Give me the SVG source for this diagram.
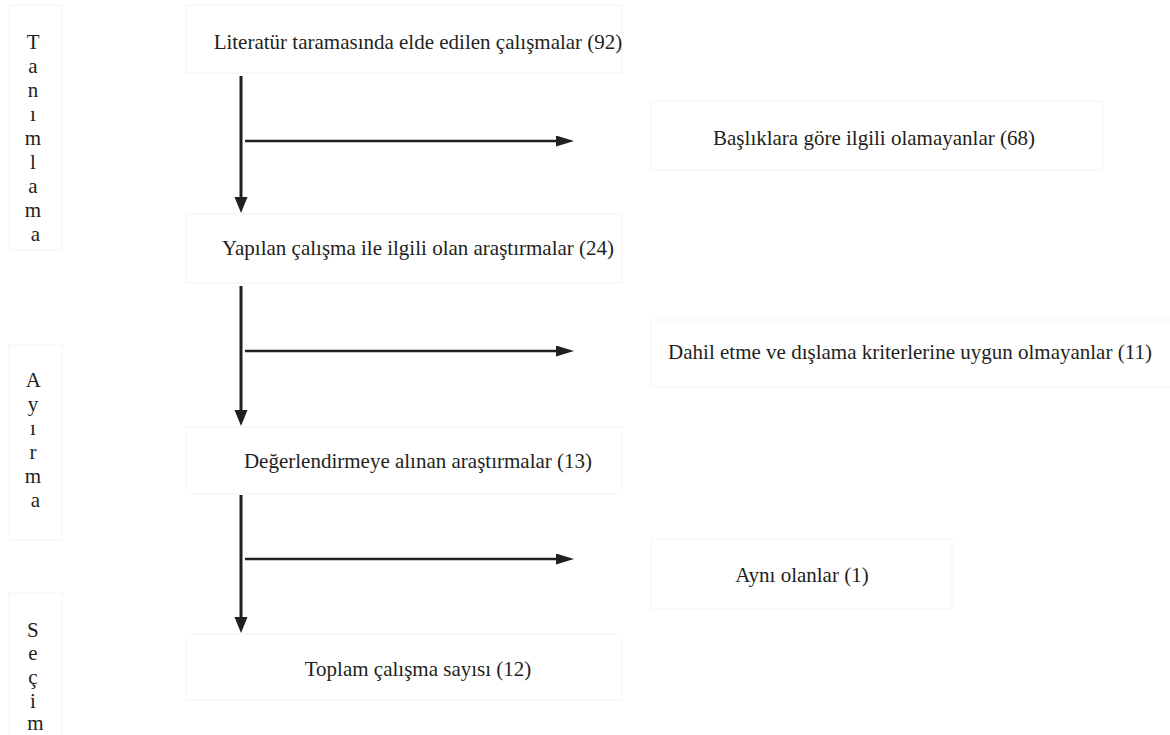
<svg xmlns="http://www.w3.org/2000/svg" width="1170" height="735" viewBox="0 0 1170 735">
  <style>
    .box { fill: #ffffff; stroke: #f9f8f0; stroke-width: 1.5; }
    .t { font-family: "Liberation Serif", "Times New Roman", serif; font-size: 21px; fill: #231f20; }
    .c { text-anchor: middle; }
    .v { stroke: #231f20; stroke-width: 3; fill: none; }
    .h { stroke: #231f20; stroke-width: 2.5; fill: none; }
  </style>
  <defs>
    <marker id="headV" markerUnits="userSpaceOnUse" markerWidth="17" markerHeight="14" refX="0" refY="6.5" orient="auto" viewBox="0 0 17 14">
      <path d="M0,0 L16,6.5 L0,13 z" fill="#231f20"/>
    </marker>
    <marker id="headH" markerUnits="userSpaceOnUse" markerWidth="19" markerHeight="12" refX="0" refY="5.5" orient="auto" viewBox="0 0 19 12">
      <path d="M0,0 L18,5.5 L0,11 z" fill="#231f20"/>
    </marker>
  </defs>
  <rect width="1170" height="735" fill="#ffffff"/>

  <g id="phase-tanimlama">
    <rect class="box" x="9" y="5" width="53" height="245"/>
    <text class="t c" x="35.5">
      <tspan x="35.5" y="49">T</tspan>
      <tspan x="35.5" y="73">a</tspan>
      <tspan x="35.5" y="97">n</tspan>
      <tspan x="35.5" y="121">ı</tspan>
      <tspan x="35.5" y="145">m</tspan>
      <tspan x="35.5" y="169">l</tspan>
      <tspan x="35.5" y="193">a</tspan>
      <tspan x="35.5" y="217">m</tspan>
      <tspan x="35.5" y="241">a</tspan>
    </text>
  </g>
  <g id="phase-ayirma">
    <rect class="box" x="9" y="345" width="53" height="195"/>
    <text class="t c" x="35.5">
      <tspan x="35.5" y="387">A</tspan>
      <tspan x="35.5" y="411">y</tspan>
      <tspan x="35.5" y="435">ı</tspan>
      <tspan x="35.5" y="459">r</tspan>
      <tspan x="35.5" y="483">m</tspan>
      <tspan x="35.5" y="507">a</tspan>
    </text>
  </g>
  <g id="phase-secim">
    <rect class="box" x="9" y="593" width="53" height="150"/>
    <text class="t c" x="35.5">
      <tspan x="35.5" y="637">S</tspan>
      <tspan x="35.5" y="660">e</tspan>
      <tspan x="35.5" y="684">ç</tspan>
      <tspan x="35.5" y="708">i</tspan>
      <tspan x="35.5" y="730">m</tspan>
    </text>
  </g>

  <g id="n1">
    <rect class="box" x="186" y="5" width="436" height="68"/>
    <text class="t c" x="418" y="49">Literatür taramasında elde edilen çalışmalar (92)</text>
  </g>
  <g id="n2">
    <rect class="box" x="186" y="214" width="436" height="69"/>
    <text class="t c" x="418" y="255">Yapılan çalışma ile ilgili olan araştırmalar (24)</text>
  </g>
  <g id="n3">
    <rect class="box" x="186" y="427" width="436" height="67"/>
    <text class="t c" x="418" y="468">Değerlendirmeye alınan araştırmalar (13)</text>
  </g>
  <g id="n4">
    <rect class="box" x="186" y="634" width="436" height="66"/>
    <text class="t c" x="418" y="676">Toplam çalışma sayısı (12)</text>
  </g>
  <g id="x1">
    <rect class="box" x="651" y="101" width="452" height="69"/>
    <text class="t c" x="874" y="145">Başlıklara göre ilgili olamayanlar (68)</text>
  </g>
  <g id="x2">
    <rect class="box" x="651" y="320" width="525" height="67"/>
    <text class="t c" x="910" y="359">Dahil etme ve dışlama kriterlerine uygun olmayanlar (11)</text>
  </g>
  <g id="x3">
    <rect class="box" x="651" y="539" width="301" height="70"/>
    <text class="t c" x="802" y="582">Aynı olanlar (1)</text>
  </g>

  <g id="connectors">
    <line class="v" x1="241" y1="76" x2="241" y2="197" marker-end="url(#headV)"/>
    <line class="v" x1="241" y1="286" x2="241" y2="410" marker-end="url(#headV)"/>
    <line class="v" x1="241" y1="495" x2="241" y2="617" marker-end="url(#headV)"/>
    <line class="h" x1="245" y1="141" x2="556" y2="141" marker-end="url(#headH)"/>
    <line class="h" x1="245" y1="351" x2="556" y2="351" marker-end="url(#headH)"/>
    <line class="h" x1="245" y1="559" x2="556" y2="559" marker-end="url(#headH)"/>
  </g>
</svg>
